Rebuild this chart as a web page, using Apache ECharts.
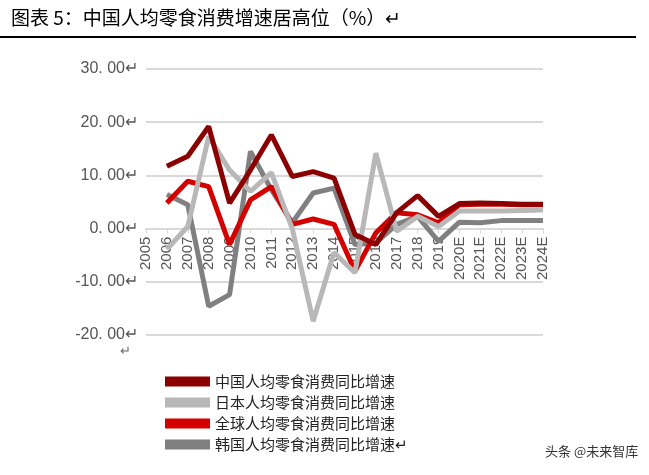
<!DOCTYPE html><html><head><meta charset="utf-8"><script src="https://cdn.jsdelivr.net/npm/echarts@6/dist/echarts.min.js"></script>
<style>body{margin:0;background:#fff}#c{width:649px;height:475px}</style></head><body><div id="c"></div><script>
const categories=['2005','2006','2007','2008','2009','2010','2011','2012','2013','2014','2015','2016','2017','2018','2019','2020E','2021E','2022E','2023E','2024E'];
const china=[null,11.7,13.6,19.2,4.8,11,17.6,9.8,10.7,9.5,-1.1,-3,3,6.2,2.3,4.7,4.8,4.7,4.6,4.6];
const japan=[null,-3.9,0.4,17.3,11,7,10.5,0,-17.4,-4.5,-8.3,14.2,-0.5,2.3,0.4,3.3,3.3,3.3,3.4,3.5];
const world=[null,4.8,8.9,7.9,-3,5.4,7.9,0.8,1.8,0.8,-8,-0.8,3,2.6,1.1,4.5,4.6,4.6,4.5,4.5];
const korea=[null,6.4,4.5,-14.6,-12.4,14.5,7.3,1.1,6.7,7.6,-3,-2.7,0.8,2.3,-2.4,1.2,1.1,1.5,1.5,1.5];
const names=['中国人均零食消费同比增速','日本人均零食消费同比增速','全球人均零食消费同比增速','韩国人均零食消费同比增速↵'];
const colors=['#8b0000','#b8b8b8','#d40000','#808080'];
const chart=echarts.init(document.getElementById('c'));
const mk=(n,d,i)=>({name:n,type:'line',data:d,symbol:'none',z:10-i,lineStyle:{width:5,color:colors[i]},itemStyle:{color:colors[i]}});
chart.setOption({animation:false,
title:{text:'图表 5：中国人均零食消费增速居高位（%）↵',left:6,top:3,textStyle:{fontFamily:'Noto Sans CJK SC',fontSize:19,fontWeight:'normal',color:'#000'}},
graphic:[{type:'rect',shape:{x:0,y:36,width:636,height:2},style:{fill:'#000'}},
{type:'text',left:545,top:445,style:{text:'头条 @未来智库',fontSize:13,fill:'#333',fontFamily:'Noto Sans CJK SC'}},
{type:'text',left:120,top:345,style:{text:'↵',fontSize:13,fill:'#666'}}],
legend:{orient:'vertical',left:160,top:369,itemGap:6,itemWidth:45,itemHeight:10,icon:'rect',textStyle:{fontFamily:'Noto Sans CJK SC',fontSize:15,color:'#222'},data:names},
grid:{left:146,right:106,top:69,bottom:140},
xAxis:{type:'category',data:categories,boundaryGap:false,offset:-106.4,axisLine:{onZero:false,lineStyle:{color:'#d9d9d9',width:2}},axisTick:{show:true,lineStyle:{color:'#d9d9d9'}},
axisLabel:{rotate:90,fontFamily:'Liberation Sans',fontSize:15,color:'#555',interval:0}},
yAxis:{type:'value',min:-20,max:30,interval:10,axisLabel:{fontFamily:'Liberation Sans',fontSize:16,color:'#555',formatter:v=>v.toFixed(2).replace('.','. ')+'↵'},splitLine:{lineStyle:{color:'#d9d9d9',width:2}},axisLine:{show:false},axisTick:{show:false}},
series:[mk(names[0],china,0),mk(names[1],japan,1),mk(names[2],world,2),mk(names[3],korea,3)]});
</script></body></html>
